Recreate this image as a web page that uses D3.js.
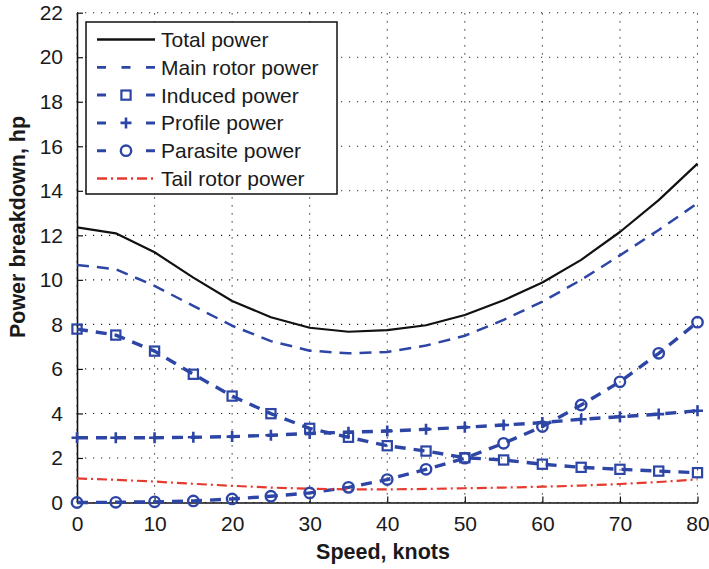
<!DOCTYPE html>
<html>
<head>
<meta charset="utf-8">
<script src="https://cdn.jsdelivr.net/npm/d3@7"></script>
<style>
  body { margin: 0; background: #fff; }
  svg text { font-family: "Liberation Sans", Arial, Helvetica, sans-serif; }
</style>
</head>
<body>
<div id="chart"></div>
<script>
// Data (speed in knots, power in hp)
const speeds = [0, 5, 10, 15, 20, 25, 30, 35, 40, 45, 50, 55, 60, 65, 70, 75, 80];
const totalPower = [12.36, 12.09, 11.24, 10.1, 9.05, 8.32, 7.85, 7.67, 7.74, 7.96, 8.42, 9.08, 9.88, 10.9, 12.15, 13.58, 15.22];
const mainRotorPower = [10.67, 10.48, 9.73, 8.83, 7.94, 7.25, 6.82, 6.7, 6.76, 7.05, 7.49, 8.2, 9.02, 10.0, 11.1, 12.24, 13.44];
const inducedPower = [7.79, 7.52, 6.8, 5.76, 4.78, 3.99, 3.33, 2.93, 2.55, 2.31, 2.01, 1.91, 1.72, 1.58, 1.49, 1.41, 1.34];
const profilePower = [2.91, 2.91, 2.91, 2.93, 2.96, 3.02, 3.1, 3.16, 3.21, 3.29, 3.38, 3.48, 3.59, 3.74, 3.85, 3.97, 4.12];
const parasitePower = [0, 0.01, 0.03, 0.07, 0.16, 0.28, 0.43, 0.68, 1.03, 1.49, 1.99, 2.66, 3.41, 4.38, 5.42, 6.7, 8.1];
const tailRotorPower = [1.08, 1.02, 0.94, 0.84, 0.75, 0.67, 0.62, 0.59, 0.59, 0.61, 0.64, 0.67, 0.71, 0.76, 0.83, 0.92, 1.04];

const xTicks = [0, 10, 20, 30, 40, 50, 60, 70, 80];
const yTicks = [0, 2, 4, 6, 8, 10, 12, 14, 16, 18, 20, 22];

const blue = "#2D46A6", red = "#E63A2E";

const series = [
    { name: "Total power", values: totalPower, color: "#111", width: 2.2, dash: null, legendDash: null, marker: null },
    { name: "Main rotor power", values: mainRotorPower, color: blue, width: 2.5, dash: "12,8", legendDash: "9,15.5,9,15.5,9", marker: null },
    { name: "Induced power", values: inducedPower, color: blue, width: 3.4, dash: "11,8", legendDash: "9,40,9", marker: "square" },
    { name: "Profile power", values: profilePower, color: blue, width: 3.4, dash: "11,8", legendDash: "9,40,9", marker: "plus" },
    { name: "Parasite power", values: parasitePower, color: blue, width: 3.4, dash: "11,8", legendDash: "9,40,9", marker: "circle" },
    { name: "Tail rotor power", values: tailRotorPower, color: red, width: 2.2, dash: "10,4,2,4", legendDash: "10,4,2,4", marker: null }
];

const width = 709, height = 569;
const svg = d3.select("#chart").append("svg")
    .attr("width", width)
    .attr("height", height);

const x = d3.scaleLinear().domain([0, 80]).range([77, 697.5]);
const y = d3.scaleLinear().domain([0, 22]).range([502.5, 12.7]);

// dotted grid
svg.append("g")
    .selectAll("line")
    .data(xTicks)
    .enter()
    .append("line")
    .attr("x1", d => x(d)).attr("x2", d => x(d))
    .attr("y1", y(0)).attr("y2", y(22))
    .attr("stroke", "#222")
    .attr("stroke-width", 1.1)
    .attr("stroke-dasharray", "1.2,6.8");

svg.append("g")
    .selectAll("line")
    .data(yTicks)
    .enter()
    .append("line")
    .attr("x1", x(0)).attr("x2", x(80))
    .attr("y1", d => y(d)).attr("y2", d => y(d))
    .attr("stroke", "#222")
    .attr("stroke-width", 1.1)
    .attr("stroke-dasharray", "1.2,6.8");

// axes (ticks inward)
const xAxis = svg.append("g")
    .attr("transform", `translate(0,${y(0)})`)
    .call(d3.axisBottom(x).tickValues(xTicks).tickSize(-6).tickPadding(14).tickSizeOuter(0));
const yAxis = svg.append("g")
    .attr("transform", `translate(${x(0)},0)`)
    .call(d3.axisLeft(y).tickValues(yTicks).tickSize(-6).tickPadding(14).tickSizeOuter(0));

[xAxis, yAxis].forEach(a => {
    a.select(".domain").attr("stroke", "#111").attr("stroke-width", 1.6);
    a.selectAll(".tick line").attr("stroke", "#111").attr("stroke-width", 1.2);
    a.selectAll(".tick text")
        .attr("fill", "#1a1a1a")
        .style("font-size", "21px");
});

// lines
const line = d3.line()
    .x((d, i) => x(speeds[i]))
    .y(d => y(d));

series.forEach(s => {
    svg.append("path")
        .datum(s.values)
        .attr("d", line)
        .attr("fill", "none")
        .attr("stroke", s.color)
        .attr("stroke-width", s.width)
        .attr("stroke-dasharray", s.dash)
        .attr("stroke-linejoin", "round");
});

// markers
function drawMarker(g, type, cx, cy, color) {
    if (type === "square") {
        g.append("rect")
            .attr("x", cx - 4.6).attr("y", cy - 4.6)
            .attr("width", 9.2).attr("height", 9.2)
            .attr("fill", "none").attr("stroke", color).attr("stroke-width", 2.2);
    } else if (type === "circle") {
        g.append("circle")
            .attr("cx", cx).attr("cy", cy).attr("r", 5.2)
            .attr("fill", "none").attr("stroke", color).attr("stroke-width", 2.4);
    } else if (type === "plus") {
        g.append("path")
            .attr("d", `M${cx - 5.5},${cy}H${cx + 5.5}M${cx},${cy - 5.5}V${cy + 5.5}`)
            .attr("fill", "none").attr("stroke", color).attr("stroke-width", 2.6);
    }
}

series.filter(s => s.marker).forEach(s => {
    const g = svg.append("g");
    s.values.forEach((v, i) => drawMarker(g, s.marker, x(speeds[i]), y(v), s.color));
});

// legend
const legend = svg.append("g");
legend.append("rect")
    .attr("x", 86).attr("y", 22)
    .attr("width", 251).attr("height", 172)
    .attr("fill", "#fff")
    .attr("stroke", "#111")
    .attr("stroke-width", 1.5);

series.forEach((s, i) => {
    const ly = 39.5 + i * 27.8;
    legend.append("line")
        .attr("x1", 97).attr("x2", 155)
        .attr("y1", ly).attr("y2", ly)
        .attr("stroke", s.color)
        .attr("stroke-width", s.marker ? 3 : (s.width > 2.3 ? 2.8 : 2.4))
        .attr("stroke-dasharray", s.legendDash);
    if (s.marker) drawMarker(legend, s.marker, 126, ly, s.color);
    legend.append("text")
        .attr("x", 161)
        .attr("y", ly)
        .attr("dy", "0.36em")
        .attr("fill", "#1a1a1a")
        .style("font-size", "21px")
        .text(s.name);
});

// axis titles
svg.append("text")
    .attr("x", 383)
    .attr("y", 559)
    .attr("text-anchor", "middle")
    .style("font-size", "21.5px")
    .style("font-weight", "bold")
    .attr("fill", "#1a1a1a")
    .text("Speed, knots");

svg.append("text")
    .attr("transform", "translate(25,227) rotate(-90)")
    .attr("text-anchor", "middle")
    .style("font-size", "21.5px")
    .style("font-weight", "bold")
    .attr("fill", "#1a1a1a")
    .text("Power breakdown, hp");
</script>
</body>
</html>
